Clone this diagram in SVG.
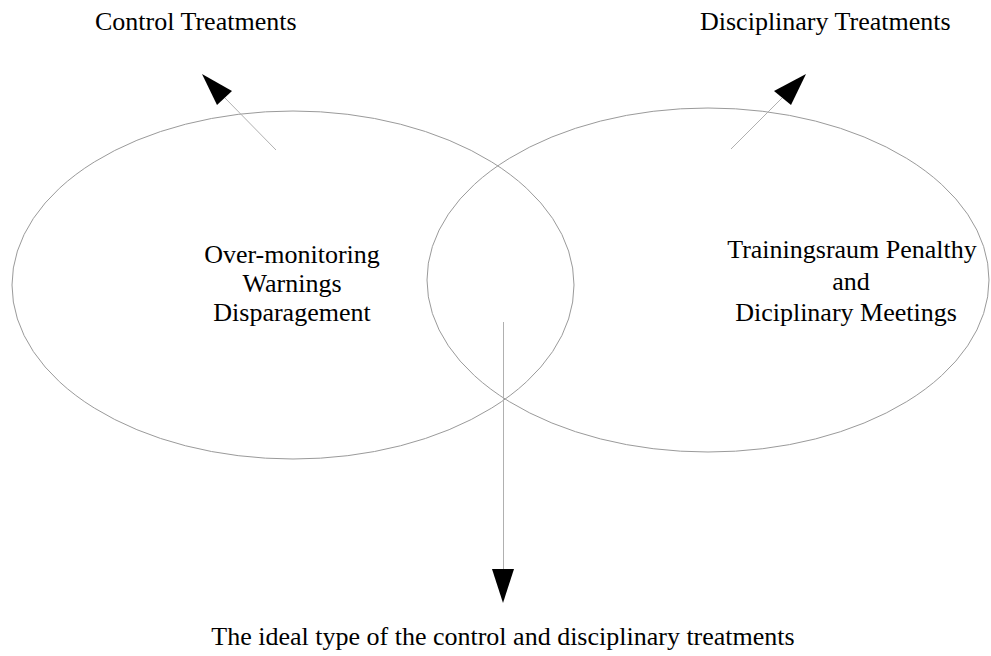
<svg xmlns="http://www.w3.org/2000/svg" width="991" height="656" viewBox="0 0 991 656">
  <style>
    .set { fill: none; stroke: #9a9a9a; stroke-width: 1; }
    .link { stroke: #b0b0b0; stroke-width: 1; fill: none; }
    .head { fill: #000; stroke: none; }
    text { font-family: "Liberation Serif", "Times New Roman", serif; font-size: 26px; fill: #000; }
    .mid { text-anchor: middle; }
  </style>
  <rect width="991" height="656" fill="#fff"/>

  <g id="control-set">
    <ellipse class="set" cx="293" cy="285" rx="281" ry="174"/>
    <text class="mid" x="292" y="263">Over-monitoring</text>
    <text class="mid" x="292" y="292">Warnings</text>
    <text class="mid" x="292" y="321">Disparagement</text>
  </g>

  <g id="disciplinary-set">
    <ellipse class="set" cx="708" cy="280" rx="281" ry="172"/>
    <text class="mid" x="852" y="258">Trainingsraum Penalthy</text>
    <text class="mid" x="851" y="290">and</text>
    <text class="mid" x="846" y="321">Diciplinary Meetings</text>
  </g>

  <g id="control-label">
    <text x="95" y="30">Control Treatments</text>
  </g>

  <g id="disciplinary-label">
    <text x="700" y="30">Disciplinary Treatments</text>
  </g>

  <g id="ideal-label">
    <text class="mid" x="503" y="645">The ideal type of the control and disciplinary treatments</text>
  </g>

  <g id="connectors">
    <line class="link" x1="276" y1="150" x2="225" y2="98"/>
    <polygon class="head" points="202,74 232,91 217,105"/>
    <line class="link" x1="731" y1="149" x2="782" y2="98"/>
    <polygon class="head" points="806,74 774,91 791,105"/>
    <line class="link" x1="503.5" y1="322" x2="503.5" y2="569"/>
    <polygon class="head" points="492,569 514,569 503,603"/>
  </g>
</svg>
